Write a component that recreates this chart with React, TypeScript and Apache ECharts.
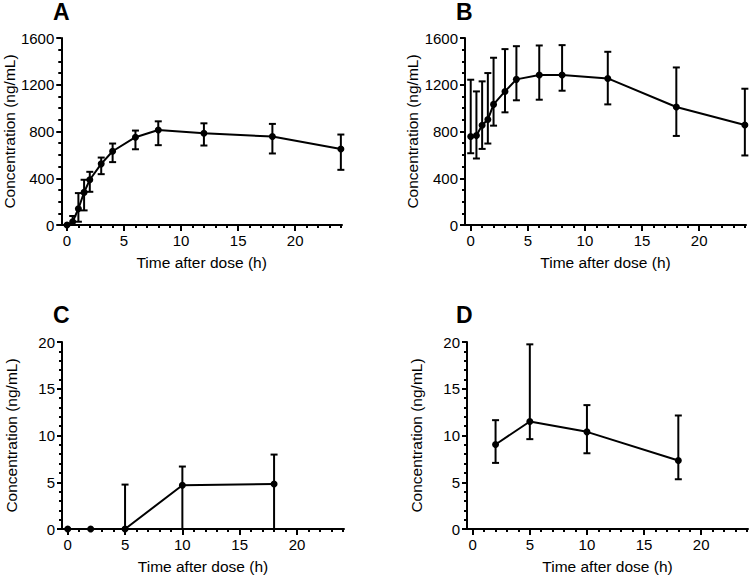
import React, { useEffect, useRef } from "react";
import * as echarts from "echarts";

// ---------- data ----------
const xTickLabels = [0, 5, 10, 15, 20];
const xMinorTicks = [0, 1, 2, 3, 4, 5, 6, 7, 8, 9, 10, 11, 12, 13, 14, 15, 16, 17, 18, 19, 20, 21, 22, 23, 24];
const yTicksHigh = [0, 400, 800, 1200, 1600];
const yTicksLow = [0, 5, 10, 15, 20];

const timesA = [0, 0.5, 1, 1.5, 2, 3, 4, 6, 8, 12, 18, 24];
const meanA = [0, 28, 139, 279, 387, 523, 631, 751, 813, 785, 757, 651];
const upperA = [0, 77, 273, 387, 455, 577, 697, 808, 887, 870, 865, 774];
const lowerA = [0, 0, 28, 125, 284, 435, 538, 648, 683, 680, 612, 472];

const timesB = [0, 0.5, 1, 1.5, 2, 3, 4, 6, 8, 12, 18, 24];
const meanB = [757, 765, 853, 902, 1032, 1143, 1246, 1283, 1283, 1254, 1010, 856];
const upperB = [1243, 1143, 1229, 1300, 1431, 1505, 1530, 1536, 1539, 1482, 1348, 1166];
const lowerB = [614, 569, 651, 697, 850, 964, 1067, 1072, 1149, 1032, 762, 595];

const timesC = [0, 2, 5, 10, 18];
const meanC = [0, 0, 0, 4.68, 4.82];
const upperC = [0, 0, 4.75, 6.68, 7.96];
const lowerC = [0, 0, 0, 0, 0];

const timesD = [2, 5, 10, 18];
const meanD = [9.04, 11.5, 10.39, 7.32];
const upperD = [11.64, 19.75, 13.25, 12.14];
const lowerD = [7.07, 9.61, 8.1, 5.32];

const panelLetters = ["A", "B", "C", "D"];
const xTitle = "Time after dose (h)";
const yTitle = "Concentration (ng/mL)";

// ---------- layout ----------
const FONT = "'Liberation Sans', Arial, Helvetica, sans-serif";
const grids = [
  { left: 60, top: 38, width: 282, height: 187 },
  { left: 465, top: 38, width: 281, height: 187 },
  { left: 62, top: 342, width: 282, height: 187 },
  { left: 467, top: 342, width: 281, height: 187 },
];
const letterPos = [
  { left: 53, top: 0 },
  { left: 456, top: 0 },
  { left: 53, top: 303 },
  { left: 456, top: 303 },
];

const panels = [
  { t: timesA, m: meanA, u: upperA, l: lowerA, yMax: 1600, yInt: 400, minor: 4, ticks: yTicksHigh },
  { t: timesB, m: meanB, u: upperB, l: lowerB, yMax: 1600, yInt: 400, minor: 4, ticks: yTicksHigh },
  { t: timesC, m: meanC, u: upperC, l: lowerC, yMax: 20, yInt: 5, minor: 5, ticks: yTicksLow },
  { t: timesD, m: meanD, u: upperD, l: lowerD, yMax: 20, yInt: 5, minor: 5, ticks: yTicksLow },
];

const BLACK = "#000";

function errRender(params: any, api: any) {
  const x = api.value(0);
  const lo = api.value(1);
  const hi = api.value(2);
  const mean = api.value(3);
  if (hi <= lo) return null;
  const pHi = api.coord([x, hi]);
  const pLo = api.coord([x, lo]);
  const cw = 3.5;
  const style = { stroke: BLACK, lineWidth: 2 };
  const children: any[] = [
    { type: "line", shape: { x1: pHi[0], y1: pHi[1], x2: pLo[0], y2: pLo[1] }, style },
  ];
  if (hi > mean) {
    children.push({ type: "line", shape: { x1: pHi[0] - cw, y1: pHi[1], x2: pHi[0] + cw, y2: pHi[1] }, style });
  }
  if (lo > 0) {
    children.push({ type: "line", shape: { x1: pLo[0] - cw, y1: pLo[1], x2: pLo[0] + cw, y2: pLo[1] }, style });
  }
  return { type: "group", children };
}

export default function App() {
  const ref = useRef<HTMLDivElement>(null);
  useEffect(() => {
    if (!ref.current) return;
    const chart = echarts.init(ref.current, undefined, { renderer: "svg" });

    const xAxes: any[] = [];
    const yAxes: any[] = [];
    const series: any[] = [];

    panels.forEach((p, i) => {
      xAxes.push({
        type: "value",
        gridIndex: i,
        position: "bottom",
        min: -0.5,
        max: 24.1,
        name: xTitle,
        nameLocation: "middle",
        nameGap: 29,
        nameTextStyle: { fontFamily: FONT, fontSize: 15.5, color: BLACK },
        axisLine: { onZero: false, lineStyle: { color: BLACK, width: 2 } },
        axisTick: { show: true, customValues: xMinorTicks, length: 3, lineStyle: { color: BLACK, width: 2 } },
        axisLabel: { customValues: xTickLabels, margin: 8, fontFamily: FONT, fontSize: 15, color: BLACK },
        splitLine: { show: false },
      });
      yAxes.push({
        type: "value",
        gridIndex: i,
        min: 0,
        max: p.yMax,
        interval: p.yInt,
        name: yTitle,
        nameLocation: "middle",
        nameGap: 43,
        nameTextStyle: { fontFamily: FONT, fontSize: 15.5, color: BLACK },
        axisLine: { show: true, onZero: false, lineStyle: { color: BLACK, width: 2 } },
        axisTick: { show: true, length: 5, lineStyle: { color: BLACK, width: 2 } },
        minorTick: { show: true, splitNumber: p.minor, length: 3, lineStyle: { color: BLACK, width: 2 } },
        axisLabel: {
          margin: 7,
          fontFamily: FONT,
          fontSize: 15,
          color: BLACK,
          formatter: (v: number) => String(v),
        },
        splitLine: { show: false },
      });
      series.push({
        type: "custom",
        xAxisIndex: i,
        yAxisIndex: i,
        renderItem: errRender,
        encode: { x: 0, y: [1, 2] },
        data: p.t.map((t, k) => [t, p.l[k], p.u[k], p.m[k]]),
        z: 2,
      });
      series.push({
        type: "line",
        xAxisIndex: i,
        yAxisIndex: i,
        data: p.t.map((t, k) => [t, p.m[k]]),
        symbol: "circle",
        symbolSize: 7,
        showSymbol: true,
        lineStyle: { color: BLACK, width: 2 },
        itemStyle: { color: BLACK },
        z: 3,
      });
    });
    // major x ticks overlay
    panels.forEach((p, i) => {
      xAxes.push({
        type: "value",
        gridIndex: i,
        position: "bottom",
        min: -0.5,
        max: 24.1,
        axisLine: { show: false, onZero: false },
        axisTick: { show: true, customValues: xTickLabels, length: 6, lineStyle: { color: BLACK, width: 2 } },
        axisLabel: { show: false },
        splitLine: { show: false },
      });
    });

    chart.setOption({
      animation: false,
      backgroundColor: "#fff",
      title: panelLetters.map((txt, i) => ({
        text: txt,
        left: letterPos[i].left,
        top: letterPos[i].top,
        padding: 0,
        textStyle: { fontFamily: FONT, fontSize: 23, fontWeight: "bold", color: BLACK },
      })),
      grid: grids,
      xAxis: xAxes,
      yAxis: yAxes,
      series,
    });
    return () => chart.dispose();
  }, []);
  return (
    <div
      ref={ref}
      style={{ position: "absolute", left: 0, top: 0, width: 750, height: 577, background: "#fff" }}
    />
  );
}
